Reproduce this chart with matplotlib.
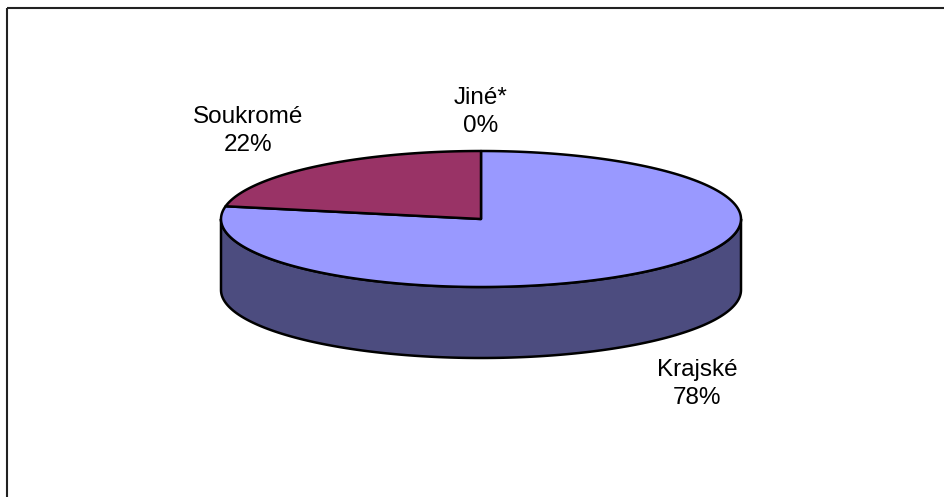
"""3D-style pie chart: share of facilities by founder type."""

import numpy as np
import matplotlib.pyplot as plt
from matplotlib.patches import Polygon, Rectangle

# data
categories = ["Krajské", "Soukromé", "Jiné*"]
shares = [78, 22, 0]
pct_labels = ["78%", "22%", "0%"]

# styling
TOP_COLORS = ["#9999FF", "#993366", "#FFFFCC"]
SIDE_COLORS = ["#4C4C7F", "#4C1933", "#7F7F66"]
EDGE = "black"
FONT = "Liberation Sans"

# geometry of the pie in figure pixels
CX, CY = 481, 219
RX, RY = 260, 68
DEPTH = 71
LABEL_POS = [(697, 384), (248, 131), (481, 112)]

W, H, DPI = 944, 497, 100


def ellipse_pts(t0, t1, dy=0.0, n=200):
    t = np.radians(np.linspace(t0, t1, n))
    return np.column_stack([CX + RX * np.cos(t), CY - RY * np.sin(t) + dy])


fig = plt.figure(figsize=(W / DPI, H / DPI), dpi=DPI)
ax = fig.add_axes([0, 0, 1, 1])
ax.set_xlim(0, W)
ax.set_ylim(H, 0)
ax.axis("off")

# chart frame (cropped at right and bottom)
ax.add_patch(Rectangle((7, 8), W, H, fill=False, ec="#222222", lw=1.5))

total = sum(shares)
angles = []
start = 90.0
for s in shares:
    sweep = 360.0 * s / total
    angles.append((start - sweep, start))  # clockwise from 12 o'clock
    start -= sweep

# front side walls (visible part 180..360 deg)
for (a0, a1), col in zip(angles, SIDE_COLORS):
    for shift in (-360, 0, 360):
        lo = max(a0 + shift, 180)
        hi = min(a1 + shift, 360)
        if hi - lo > 0.01:
            top = ellipse_pts(lo, hi)
            bot = ellipse_pts(hi, lo, dy=DEPTH)
            ax.add_patch(Polygon(np.vstack([top, bot]), closed=True,
                                 fc=col, ec=EDGE, lw=1.8, joinstyle="round"))

# top faces
for (a0, a1), col in zip(angles, TOP_COLORS):
    if a1 - a0 < 0.01:
        continue
    arc = ellipse_pts(a0, a1)
    pts = np.vstack([[CX, CY], arc])
    ax.add_patch(Polygon(pts, closed=True, fc=col, ec=EDGE, lw=1.8,
                         joinstyle="round"))

for name, pct, (x, y) in zip(categories, pct_labels, LABEL_POS):
    ax.text(x, y, f"{name}\n{pct}", ha="center", va="center",
            fontsize=17.5, family=FONT, linespacing=1.35, color="black")

fig.savefig("out.png", dpi=DPI)
